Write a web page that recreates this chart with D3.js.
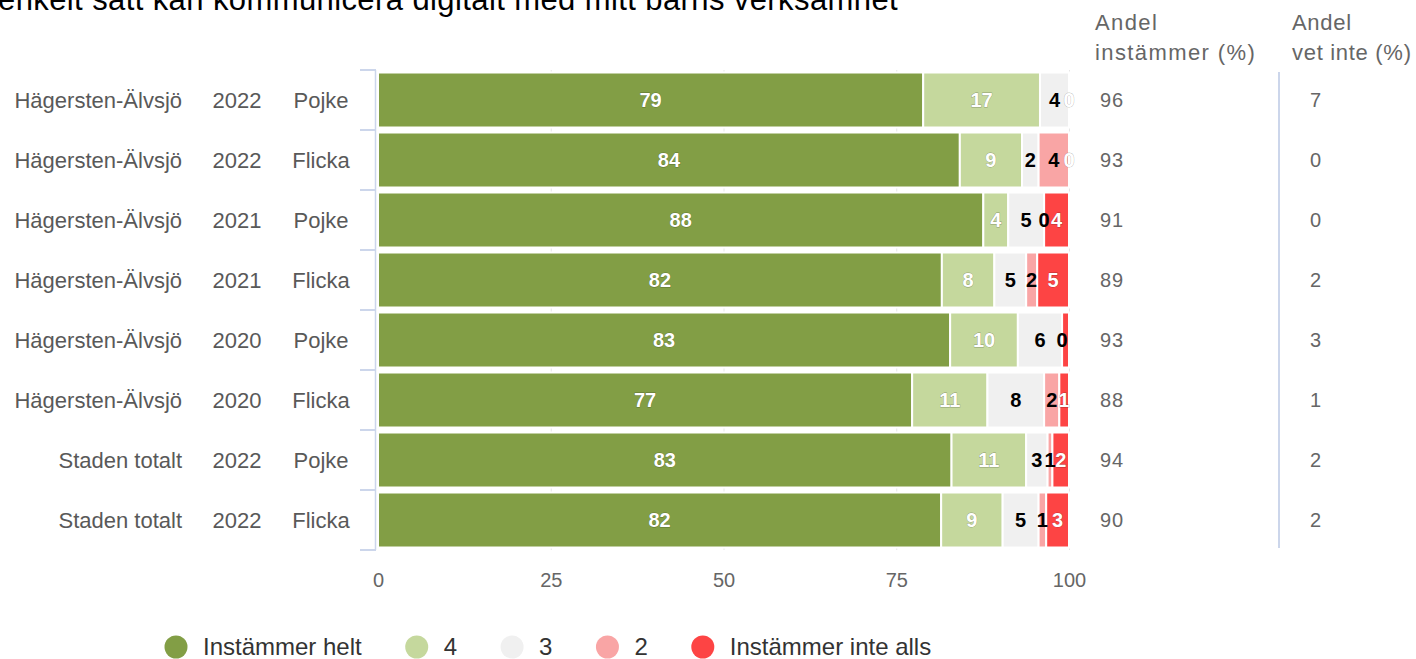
<!DOCTYPE html>
<html lang="sv">

<head>
    <meta charset="UTF-8">
    <title>Digital kommunikation</title>
    <script src="https://d3js.org/d3.v7.min.js"></script>
    <style>
        body { margin: 0; background: #fff; }
        svg { font-family: "Liberation Sans", Arial, sans-serif; display: block; }
    </style>
</head>

<body>
    <svg width="1416" height="659"></svg>

    <script>
        // Data
        const regions = ['Hägersten-Älvsjö', 'Hägersten-Älvsjö', 'Hägersten-Älvsjö', 'Hägersten-Älvsjö',
            'Hägersten-Älvsjö', 'Hägersten-Älvsjö', 'Staden totalt', 'Staden totalt'];
        const years = ['2022', '2022', '2021', '2021', '2020', '2020', '2022', '2022'];
        const genders = ['Pojke', 'Flicka', 'Pojke', 'Flicka', 'Pojke', 'Flicka', 'Pojke', 'Flicka'];

        const seriesNames = ['Instämmer helt', '4', '3', '2', 'Instämmer inte alls'];
        const helt = [78.9, 84.2, 87.6, 81.6, 82.8, 77.3, 83.0, 81.5];
        const fyra = [16.9, 9.0, 3.6, 7.6, 9.8, 10.9, 10.8, 8.9];
        const tre = [4.2, 2.4, 5.2, 4.6, 6.4, 8.2, 3.1, 5.2];
        const tva = [0, 4.4, 0, 1.6, 0, 2.2, 0.7, 1.1];
        const inteAlls = [0, 0, 3.6, 4.6, 1.0, 1.4, 2.4, 3.3];

        const andelInstammer = [96, 93, 91, 89, 93, 88, 94, 90];
        const andelVetInte = [7, 0, 0, 2, 3, 1, 2, 2];
        const xTicks = [0, 25, 50, 75, 100];

        const colors = ['#829e45', '#c5d89d', '#f0f0f0', '#f9a5a5', '#fd4444'];
        const labelColors = ['#fff', '#fff', '#000', '#000', '#fff'];

        const rows = regions.map((r, i) => ({
            i, region: r, year: years[i], gender: genders[i],
            values: [helt[i], fyra[i], tre[i], tva[i], inteAlls[i]]
        }));

        const svg = d3.select('svg');

        const x = d3.scaleLinear().domain([0, 100]).range([378, 1069]);
        const y = d3.scaleBand().domain(d3.range(rows.length)).range([70, 550]);
        const step = y.step();

        // title (cut off at the top of the picture)
        svg.append('text')
            .attr('x', -2).attr('y', 10)
            .attr('font-size', 31)
            .attr('letter-spacing', 0.4)
            .attr('fill', '#000')
            .text('enkelt sätt kan kommunicera digitalt med mitt barns verksamhet');

        // grid
        svg.append('g').selectAll('line')
            .data(xTicks.slice(1))
            .join('line')
            .attr('x1', d => x(d) + 0.5).attr('x2', d => x(d) + 0.5)
            .attr('y1', y.range()[0]).attr('y2', y.range()[1])
            .attr('stroke', '#e6e6e6');

        // stacked bars
        const rowG = svg.append('g').selectAll('g')
            .data(rows)
            .join('g');

        rowG.each(function (row) {
            const stack = d3.cumsum(row.values);
            const segs = row.values.map((v, k) => ({ k, v, x0: stack[k] - v, x1: stack[k] }));
            const g = d3.select(this);
            g.selectAll('rect')
                .data(segs)
                .join('rect')
                .attr('x', d => x(d.x0))
                .attr('width', d => x(d.x1) - x(d.x0))
                .attr('y', y(row.i) + 2.5)
                .attr('height', step - 5)
                .attr('fill', d => colors[d.k])
                .attr('stroke', '#fff')
                .attr('stroke-width', 2);

            // labels, a later label wins a tie between two empty segments
            const placed = [];
            segs.forEach(d => {
                const white = labelColors[d.k] === '#fff';
                const t = g.append('text')
                    .attr('x', (x(d.x0) + x(d.x1)) / 2)
                    .attr('y', y(row.i) + step / 2)
                    .attr('dy', '0.35em')
                    .attr('text-anchor', 'middle')
                    .attr('font-size', 20)
                    .attr('font-weight', 'bold')
                    .attr('fill', labelColors[d.k])
                    .attr('stroke', white ? 'rgba(0,0,0,0.3)' : 'none')
                    .attr('stroke-width', white ? 0.8 : 0)
                    .style('paint-order', 'stroke')
                    .text(d3.format('.0f')(d.v));
                const bb = t.node().getBBox();
                const hit = placed.find(p => bb.x < p.bb.x + p.bb.width - 2 && p.bb.x < bb.x + bb.width - 2);
                if (!hit) placed.push({ bb, t, v: d.v });
                else if (hit.v === 0 && d.v === 0) {
                    hit.t.remove();
                    hit.bb = bb; hit.t = t;
                } else t.remove();
            });
        });

        // left category axis
        const axisL = svg.append('g').attr('stroke', '#ccd6eb');
        axisL.append('line')
            .attr('x1', 375.5).attr('x2', 375.5)
            .attr('y1', y.range()[0]).attr('y2', y.range()[1])
            .attr('stroke-width', 1.5);
        axisL.selectAll('.tick')
            .data(d3.range(rows.length + 1))
            .join('line')
            .attr('class', 'tick')
            .attr('x1', 360).attr('x2', 376)
            .attr('y1', d => y.range()[0] + d * step)
            .attr('y2', d => y.range()[0] + d * step)
            .attr('stroke-width', 2);

        const cats = svg.append('g')
            .attr('font-size', 22)
            .attr('fill', '#595959');
        cats.selectAll('.reg').data(rows).join('text')
            .attr('class', 'reg')
            .attr('x', 182).attr('y', d => y(d.i) + step / 2).attr('dy', '0.35em')
            .attr('text-anchor', 'end')
            .text(d => d.region);
        cats.selectAll('.yr').data(rows).join('text')
            .attr('class', 'yr')
            .attr('x', 237).attr('y', d => y(d.i) + step / 2).attr('dy', '0.35em')
            .attr('text-anchor', 'middle')
            .text(d => d.year);
        cats.selectAll('.gen').data(rows).join('text')
            .attr('class', 'gen')
            .attr('x', 321).attr('y', d => y(d.i) + step / 2).attr('dy', '0.35em')
            .attr('text-anchor', 'middle')
            .text(d => d.gender);

        // bottom axis
        const axisB = svg.append('g')
            .attr('transform', 'translate(0,573)')
            .call(d3.axisBottom(x).tickValues(xTicks).tickSize(0).tickPadding(0));
        axisB.select('.domain').remove();
        axisB.selectAll('text')
            .attr('font-size', 20)
            .attr('font-family', '"Liberation Sans", Arial, sans-serif')
            .attr('fill', '#666');

        // right hand columns
        const cols = [
            { x: 1095, vx: 1100, ls: 1.4, head: ['Andel', 'instämmer (%)'], vals: andelInstammer },
            { x: 1292, vx: 1310, ls: 0.7, head: ['Andel', 'vet inte (%)'], vals: andelVetInte }
        ];
        cols.forEach(c => {
            const hg = svg.append('text')
                .attr('font-size', 22)
                .attr('letter-spacing', c.ls)
                .attr('fill', '#666');
            c.head.forEach((h, k) => hg.append('tspan')
                .attr('x', c.x).attr('y', 30 + k * 30).text(h));
            svg.append('g').selectAll('text')
                .data(c.vals)
                .join('text')
                .attr('x', c.vx)
                .attr('y', (d, i) => y(i) + step / 2)
                .attr('dy', '0.35em')
                .attr('font-size', 20)
                .attr('letter-spacing', 1)
                .attr('fill', '#666')
                .text(d => d);
        });
        svg.append('line')
            .attr('x1', 1279).attr('x2', 1279)
            .attr('y1', 72).attr('y2', 548)
            .attr('stroke', '#ccd6eb').attr('stroke-width', 2);

        // legend
        const legend = svg.append('g').attr('transform', 'translate(165,647)');
        let lx = 0;
        seriesNames.forEach((name, k) => {
            legend.append('circle')
                .attr('cx', lx + 11).attr('cy', 0).attr('r', 11.5)
                .attr('fill', colors[k]);
            const t = legend.append('text')
                .attr('x', lx + 38).attr('y', 0).attr('dy', '0.35em')
                .attr('font-size', 24)
                .attr('fill', '#333')
                .text(name);
            lx += 38 + t.node().getComputedTextLength() + 44;
        });
    </script>
</body>

</html>
